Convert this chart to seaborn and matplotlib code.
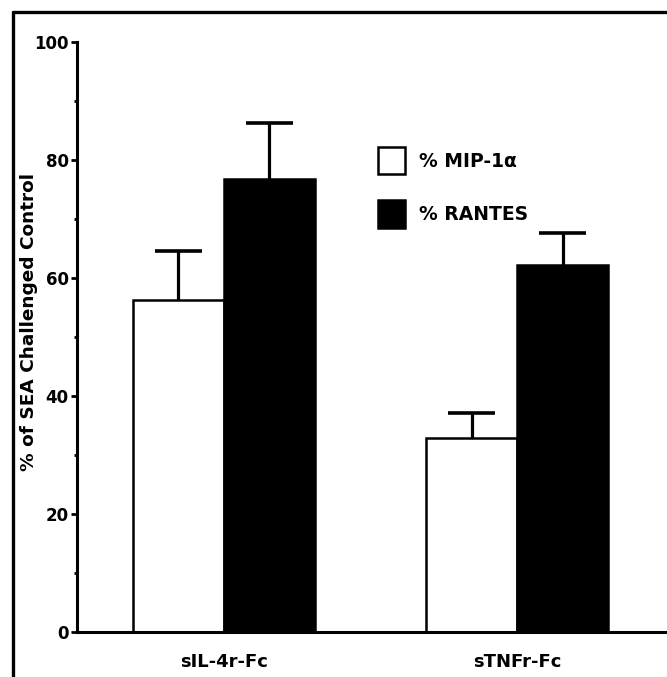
import matplotlib
matplotlib.use("Agg")
import matplotlib.pyplot as plt
from matplotlib.lines import Line2D
from matplotlib.patches import Patch
from matplotlib.ticker import MultipleLocator
import numpy as np
import pandas as pd
import seaborn as sns

# data
treatments = ["sIL-4r-Fc", "sTNFr-Fc"]
series = ["% MIP-1\u03b1", "% RANTES"]
mip_values = [56.2, 32.9]
rantes_values = [76.7, 62.2]
mip_err = [8.3, 4.2]
rantes_err = [9.6, 5.4]
y_ticks = [0, 20, 40, 60, 80, 100]

df = pd.DataFrame({
    "treatment": treatments * 2,
    "series": [series[0]] * 2 + [series[1]] * 2,
    "value": mip_values + rantes_values,
})
errors = [mip_err, rantes_err]

sns.set_style("ticks")
plt.rcParams["font.family"] = ["DejaVu Sans"]
plt.rcParams["font.weight"] = "bold"
for key in ["text.color", "axes.labelcolor", "xtick.color", "ytick.color",
            "axes.edgecolor"]:
    plt.rcParams[key] = "black"

fig = plt.figure(figsize=(6.67, 6.77), dpi=100)
ax = fig.add_axes([0.1155, 0.0665, 0.8845, 0.8715])

colors = ["white", "black"]
sns.barplot(
    data=df, x="treatment", y="value", hue="series",
    order=treatments, hue_order=series, palette=colors,
    edgecolor="black", linewidth=1.8, width=0.62, gap=0,
    errorbar=None, legend=False, ax=ax,
)

# one-sided error bars (upper only)
for cont, errs in zip(ax.containers, errors):
    for bar, e in zip(cont, errs):
        w = bar.get_width()
        xc = bar.get_x() + w / 2
        h = bar.get_height()
        ax.vlines(xc, h, h + e, color="black", linewidth=2.3, zorder=1)
        ax.hlines(h + e, xc - w * 0.26, xc + w * 0.26, color="black",
                  linewidth=2.6, zorder=1)

ax.set_ylim(0, 100)
ax.set_xlim(-0.5, 1.51)
ax.set_yticks(y_ticks)
ax.yaxis.set_minor_locator(MultipleLocator(10))
ax.tick_params(axis="y", which="major", length=4, width=2, labelsize=12, pad=2)
ax.tick_params(axis="y", which="minor", length=2.5, width=2)
ax.tick_params(axis="x", length=0, labelsize=13, pad=15)
for lab in ax.get_xticklabels() + ax.get_yticklabels():
    lab.set_fontweight("bold")

ax.set_xlabel("")
ax.set_ylabel("% of SEA Challenged Control", fontsize=13.3, fontweight="bold")
ax.yaxis.set_label_coords(-0.066, 0.525)

sns.despine(ax=ax, top=True, right=True)
ax.spines["left"].set_linewidth(2.2)
ax.spines["bottom"].set_linewidth(2.2)

handles = [Patch(facecolor=c, edgecolor="black", linewidth=1.8) for c in colors]
ax.legend(handles, series, loc="upper left", bbox_to_anchor=(0.51, 0.822),
          frameon=False, borderpad=0, borderaxespad=0,
          handlelength=1.44, handleheight=1.85,
          handletextpad=0.75, labelspacing=1.4,
          prop={"size": 13.5, "weight": "bold"})

# frame around the figure (left and top edges visible)
fig.add_artist(Line2D([0.02, 0.02], [0.0, 0.982], transform=fig.transFigure,
                      color="black", linewidth=2.4))
fig.add_artist(Line2D([0.02, 1.0], [0.982, 0.982], transform=fig.transFigure,
                      color="black", linewidth=2.4))

fig.savefig("out.png", dpi=100)
